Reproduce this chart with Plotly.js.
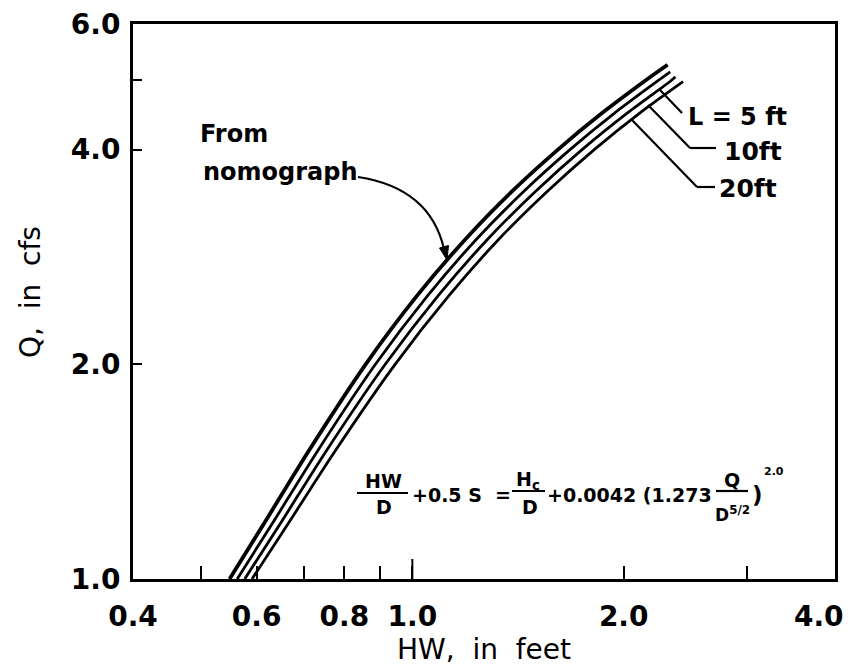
<!DOCTYPE html>
<html>
<head>
<meta charset="utf-8">
<script src="https://cdn.plot.ly/plotly-3.0.1.min.js"></script>
<style>html,body{margin:0;padding:0;background:#fff;}#chart{width:853px;height:666px;}</style>
</head>
<body>
<div id="chart"></div>
<script>
// ---- data (log-log) ----
const qNom  = [1.0, 1.2, 1.5, 2.0, 2.5, 3.0, 3.5, 4.0, 4.5, 5.0, 5.26];
const hwNom = [0.549, 0.616, 0.708, 0.858, 1.017, 1.192, 1.389, 1.612, 1.863, 2.148, 2.31];
const qL5   = [1.0, 1.2, 1.5, 2.0, 2.5, 3.0, 3.5, 4.0, 4.5, 5.0, 5.14];
const hwL5  = [0.563, 0.633, 0.729, 0.886, 1.053, 1.236, 1.443, 1.677, 1.941, 2.241, 2.33];
const qL10  = [1.0, 1.2, 1.5, 2.0, 2.5, 3.0, 3.5, 4.0, 4.5, 5.0, 5.06];
const hwL10 = [0.577, 0.650, 0.750, 0.915, 1.090, 1.282, 1.500, 1.745, 2.023, 2.338, 2.37];
const qL20  = [1.0, 1.2, 1.5, 2.0, 2.5, 3.0, 3.5, 4.0, 4.5, 4.98];
const hwL20 = [0.591, 0.667, 0.772, 0.945, 1.129, 1.330, 1.559, 1.816, 2.108, 2.43];

// labelled ticks and plain (unlabelled) ticks
const xTickVals  = [0.4, 0.6, 0.8, 1.0, 2.0];
const xTickText  = ["0.4", "0.6", "0.8", "1.0", "2.0"];
const xMinorVals = [0.5, 0.6, 0.7, 0.8, 0.9, 1.0, 2.0, 3.0];
const xEndLabel  = "4.0";
const yTickVals  = [1.0, 2.0, 4.0, 6.0];
const yTickText  = ["1.0", "2.0", "4.0", "6.0"];
const yMinorVals = [2.0, 4.0, 5.0];

const seriesNames = ["From nomograph", "L = 5 ft", "10 ft", "20 ft"];

const FONT = "DejaVu Sans, Verdana, sans-serif";
const BLACK = "#000";

const traces = [
  {x: hwNom, y: qNom, name: seriesNames[0], width: 3.8},
  {x: hwL5,  y: qL5,  name: seriesNames[1], width: 2.8},
  {x: hwL10, y: qL10, name: seriesNames[2], width: 2.8},
  {x: hwL20, y: qL20, name: seriesNames[3], width: 2.8}
].map(s => ({
  type: "scatter", mode: "lines", x: s.x, y: s.y, name: s.name,
  line: {color: BLACK, width: s.width, shape: "spline", smoothing: 0.8},
  hoverinfo: "skip", showlegend: false
}));

// paper coordinate helpers for annotations (plot area: x 133..835, y 24..579 px)
const L = 133, R = 18, T = 24, B = 87, W = 853, H = 666;
const PW = W - L - R, PH = H - T - B;
const px = v => (v - L) / PW;
const py = v => (H - B - v) / PH;

const ann = (x, y, text, size, extra, weight) => Object.assign({
  xref: "paper", yref: "paper", x: px(x), y: py(y), text: text, showarrow: false,
  font: {family: FONT, size: size, color: BLACK, weight: weight || "bold"},
  xanchor: "center", yanchor: "middle"
}, extra || {});

const annotations = [
  ann(198, 134, "From", 24, {xanchor: "left"}),
  ann(201, 172, "nomograph", 24, {xanchor: "left"}),
  ann(686, 117, "L = 5 ft", 24, {xanchor: "left"}),
  ann(722, 151, "10ft", 25, {xanchor: "left"}),
  ann(717, 189, "20ft", 25, {xanchor: "left"}),
  // equation
  ann(383, 481, "HW", 19),
  ann(384, 507, "D", 19),
  ann(410, 495, "+0.5 S  =", 19, {xanchor: "left"}),
  ann(528, 480, "H<sub>c</sub>", 19),
  ann(530, 507, "D", 19),
  ann(545, 495, "+0.0042 (1.273", 19, {xanchor: "left"}),
  ann(732, 480, "Q", 19),
  ann(732, 514, "D<sup>5/2</sup>", 17),
  ann(757, 495, ")", 23),
  ann(774, 471, "2.0", 11),
  // last x tick label (sits left of the frame corner, as in the reference)
  ann(819, 616, xEndLabel, 28),
  // y axis title
  ann(30, 292, "Q,  in  cfs", 28, {textangle: -90}, "normal")
];

const lineShape = (x0, y0, x1, y1, w) => ({
  type: "line", xref: "paper", yref: "paper",
  x0: px(x0), y0: py(y0), x1: px(x1), y1: py(y1),
  line: {color: BLACK, width: w || 2}
});

const P = (x, y) => px(x) + " " + py(y);

const shapes = [
  // fraction bars
  lineShape(357, 493, 408, 493, 2.2),
  lineShape(512, 491, 545, 491, 2.2),
  lineShape(716, 491, 748, 491, 2.2),
  // leaders
  lineShape(660, 90, 682, 113, 2.2),
  lineShape(648, 105, 690, 148, 2.2),
  lineShape(690, 148, 716, 148, 2.2),
  lineShape(632, 120, 697, 187, 2.2),
  lineShape(697, 187, 715, 187, 2.2),
  // taller tick at HW = 1.0
  {type: "line", xref: "paper", yref: "paper", x0: 0.39794, x1: 0.39794, y0: 0, y1: 20 / PH,
   line: {color: BLACK, width: 2}},
  // curved arrow body
  {type: "path", xref: "paper", yref: "paper",
   path: "M " + P(358, 177) + " Q " + P(430, 188) + " " + P(444, 249),
   line: {color: BLACK, width: 2.2}},
  // arrow head
  {type: "path", xref: "paper", yref: "paper",
   path: "M " + P(447, 260) + " L " + P(448.5, 245.5) + " L " + P(439.5, 248) + " Z",
   fillcolor: BLACK, line: {color: BLACK, width: 1}}
];

const layout = {
  width: W, height: H,
  margin: {l: L, r: R, t: T, b: B, pad: 0},
  paper_bgcolor: "#fff", plot_bgcolor: "#fff",
  font: {family: FONT, color: BLACK},
  showlegend: false,
  xaxis: {
    type: "log", range: [Math.log10(0.4), Math.log10(4.0)],
    tickmode: "array", tickvals: xTickVals, ticktext: xTickText,
    ticks: "", showline: true, linewidth: 3, linecolor: BLACK, mirror: true,
    showgrid: false, zeroline: false,
    minor: {tickmode: "array", tickvals: xMinorVals, ticks: "inside", ticklen: 13,
            tickwidth: 2, tickcolor: BLACK, showgrid: false},
    tickfont: {family: FONT, size: 28, color: BLACK, weight: "bold"},
    ticklabelstandoff: 10,
    title: {text: "HW,  in  feet", font: {family: FONT, size: 28, color: BLACK}, standoff: 2}
  },
  yaxis: {
    type: "log", range: [0, Math.log10(6.0)],
    tickmode: "array", tickvals: yTickVals, ticktext: yTickText,
    ticks: "", showline: true, linewidth: 3, linecolor: BLACK, mirror: true,
    showgrid: false, zeroline: false,
    minor: {tickmode: "array", tickvals: yMinorVals, ticks: "inside", ticklen: 9,
            tickwidth: 2, tickcolor: BLACK, showgrid: false},
    tickfont: {family: FONT, size: 28, color: BLACK, weight: "bold"},
    ticklabelstandoff: 4
  },
  annotations: annotations,
  shapes: shapes
};

Plotly.newPlot("chart", traces, layout, {staticPlot: true, displayModeBar: false});
</script>
</body>
</html>
